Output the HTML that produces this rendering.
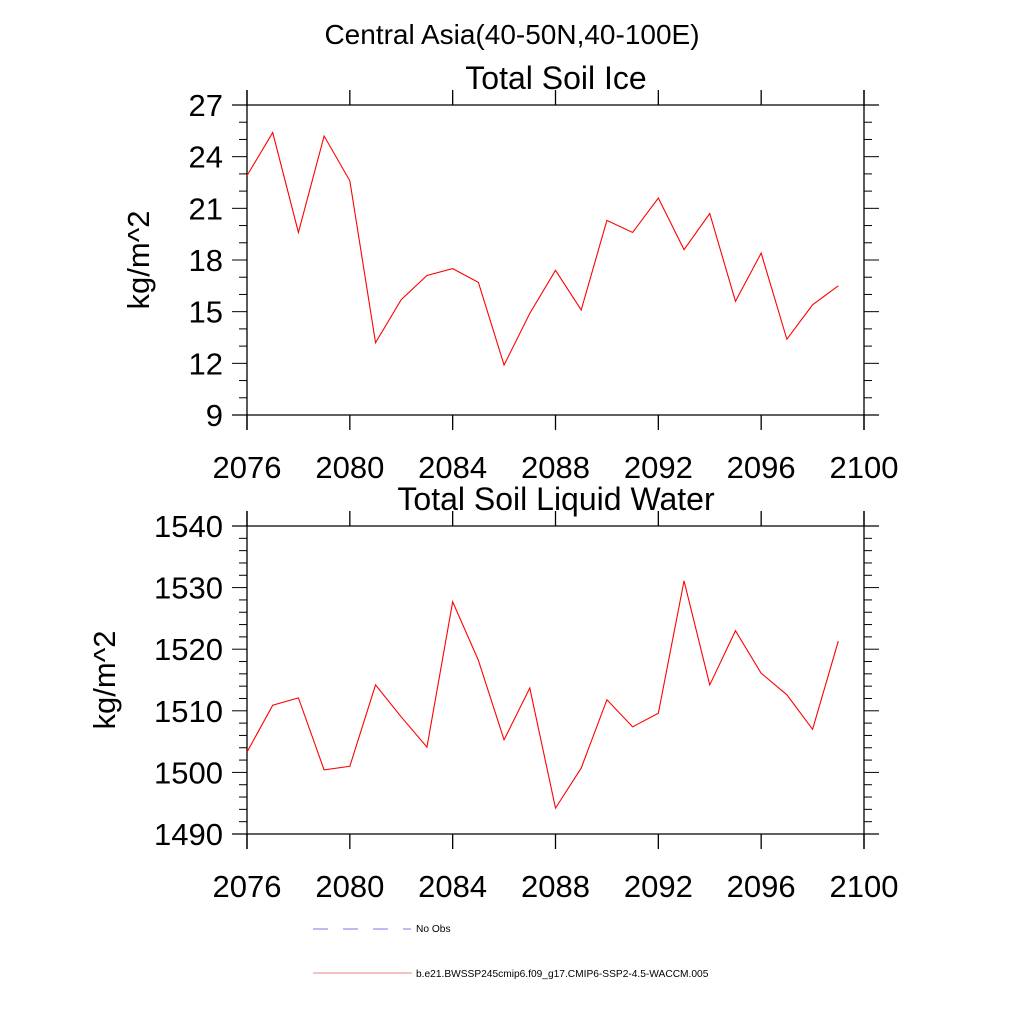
<!DOCTYPE html>
<html><head><meta charset="utf-8"><style>
html,body{margin:0;padding:0;background:#fff}
svg{display:block;font-family:"Liberation Sans",sans-serif}
</style></head><body>
<svg id="s" width="1024" height="1024" viewBox="0 0 1024 1024">
<text x="512" y="44" font-size="28" text-anchor="middle">Central Asia(40-50N,40-100E)</text>
<g id="p1"></g>
<g id="p2"></g>
<g>
<line x1="313" y1="929" x2="411" y2="929" stroke="#7777ee" stroke-width="1" stroke-dasharray="15,15"/>
<text x="416" y="932" font-size="10.2">No Obs</text>
<line x1="313" y1="973" x2="412" y2="973" stroke="#f08080" stroke-width="1"/>
<text x="416" y="977" font-size="10.2">b.e21.BWSSP245cmip6.f09_g17.CMIP6-SSP2-4.5-WACCM.005</text>
</g>
</svg>
<script>
const years=[2076,2077,2078,2079,2080,2081,2082,2083,2084,2085,2086,2087,2088,2089,2090,2091,2092,2093,2094,2095,2096,2097,2098,2099];
const iceValues=[22.9,25.4,19.6,25.2,22.6,13.2,15.7,17.1,17.5,16.7,11.9,14.9,17.4,15.1,20.3,19.6,21.6,18.6,20.7,15.6,18.4,13.4,15.4,16.5];
const waterValues=[1503.3,1510.9,1512.1,1500.4,1501.0,1514.2,1509.0,1504.1,1527.7,1518.2,1505.3,1513.7,1494.2,1500.7,1511.8,1507.4,1509.6,1531.1,1514.2,1523.0,1516.1,1512.6,1507.0,1521.3];
const xTicks=[2076,2080,2084,2088,2092,2096,2100];
const iceYTicks=[9,12,15,18,21,24,27];
const waterYTicks=[1490,1500,1510,1520,1530,1540];
const NS="http://www.w3.org/2000/svg";
function mk(p,t,a){const e=document.createElementNS(NS,t);for(const k in a)e.setAttribute(k,a[k]);p.appendChild(e);return e;}
function panel(g,o){
 const L=247,R=864,T=o.top,B=o.bottom;
 const xs=v=>L+(v-2076)/(2100-2076)*(R-L);
 const ys=v=>B-(v-o.ymin)/(o.ymax-o.ymin)*(B-T);
 const t=mk(g,'text',{x:556,y:T-16,'font-size':32,'text-anchor':'middle'});t.textContent=o.title;
 
 
 [[232,T,879,T],[232,B,879,B],[L,T-15,L,B+15],[R,T-15,R,B+15]].forEach(c=>{
  const l=mk(g,'line',{x1:c[0],y1:c[1],x2:c[2],y2:c[3],stroke:'#000','stroke-width':1.3});
  
  
 });
 xTicks.forEach(v=>{const x=xs(v);
  mk(g,'line',{x1:x,y1:T-15,x2:x,y2:T,stroke:'#000','stroke-width':1.3});
  mk(g,'line',{x1:x,y1:B,x2:x,y2:B+15,stroke:'#000','stroke-width':1.3});
  const tx=mk(g,'text',{x:x,y:B+63,'font-size':31,'text-anchor':'middle'});tx.textContent=v;
  
  
 });
 for(let v=o.ymin;v<=o.ymax+1e-9;v+=o.minor){const y=ys(v);
  const major=Math.abs((v-o.ymin)/o.major-Math.round((v-o.ymin)/o.major))<1e-6;
  const len=major?15:8;
  mk(g,'line',{x1:L-len,y1:y,x2:L,y2:y,stroke:'#000','stroke-width':1});
  mk(g,'line',{x1:R,y1:y,x2:R+len,y2:y,stroke:'#000','stroke-width':1});
 }
 o.ticks.forEach(v=>{const tx=mk(g,'text',{x:L-24,y:ys(v)+11,'font-size':31,'text-anchor':'end'});tx.textContent=v;
  
  
 });
 const yl=mk(g,'text',{x:0,y:0,'font-size':31,'text-anchor':'middle',transform:`translate(${o.ylx},${(T+B)/2}) rotate(-90)`});yl.textContent='kg/m^2';
 
 
 const pl=mk(g,'polyline',{points:years.map((y,i)=>xs(y)+','+ys(o.vals[i])).join(' '),fill:'none',stroke:'#ff0000','stroke-width':1.1});
 
 
}
panel(document.getElementById('p1'),{top:105,bottom:415,ymin:9,ymax:27,major:3,minor:1,ticks:iceYTicks,vals:iceValues,title:'Total Soil Ice',ylx:149});
panel(document.getElementById('p2'),{top:526,bottom:834,ymin:1490,ymax:1540,major:10,minor:2,ticks:waterYTicks,vals:waterValues,title:'Total Soil Liquid Water',ylx:115});
</script>
</body></html>
